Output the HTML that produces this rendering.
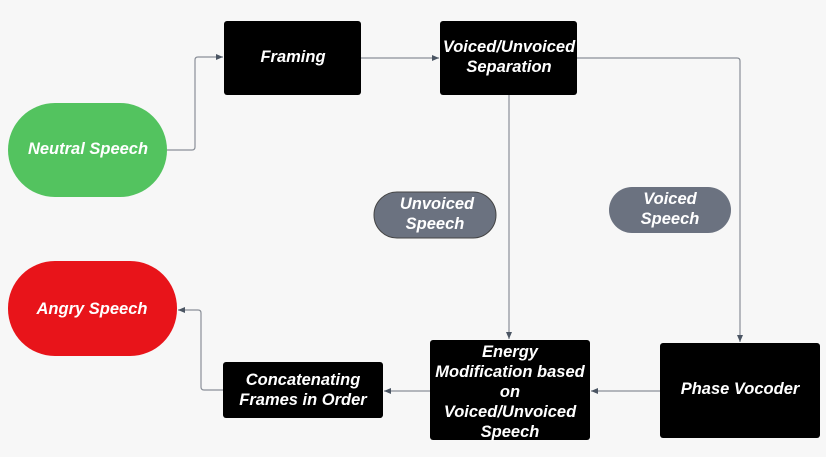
<!DOCTYPE html>
<html><head><meta charset="utf-8"><style>
html,body{margin:0;padding:0;background:#f7f7f7;}
svg{display:block;}
text{font-family:"Liberation Sans",sans-serif;font-weight:bold;font-style:italic;fill:#fff;text-anchor:middle;}
</style></head><body>
<svg width="831" height="457" viewBox="0 0 831 457" xmlns="http://www.w3.org/2000/svg">
<rect x="0" y="0" width="831" height="457" fill="#f7f7f7"/>
<rect x="826" y="0" width="5" height="457" fill="#ffffff"/>
<defs><marker id="a" markerWidth="8" markerHeight="8" refX="7" refY="4" orient="auto" markerUnits="userSpaceOnUse"><path d="M0,1 L7,4 L0,7 Z" fill="#4b5563"/></marker></defs>
<g fill="none" stroke="#8a8f98" stroke-width="1.2">
<path d="M167,150 H192 Q195,150 195,147 V60 Q195,57 198,57 H223" marker-end="url(#a)"/>
<path d="M361,58 H439" marker-end="url(#a)"/>
<path d="M577,58 H737 Q740,58 740,61 V342" marker-end="url(#a)"/>
<path d="M509,95 V339" marker-end="url(#a)"/>
<path d="M660,391 H591" marker-end="url(#a)"/>
<path d="M430,391 H384" marker-end="url(#a)"/>
<path d="M223,390 H204 Q201,390 201,387 V313 Q201,310 198,310 H178" marker-end="url(#a)"/>
</g>
<g font-size="16.5">
<rect x="224" y="21" width="137" height="74" rx="3" fill="#000"/>
<text x="293" y="62">Framing</text>
<rect x="440" y="21" width="137" height="74" rx="3" fill="#000"/>
<text x="509" y="52">Voiced/Unvoiced</text>
<text x="509" y="72">Separation</text>
<rect x="8" y="103" width="159" height="94" rx="47" fill="#53c35f"/>
<text x="88" y="154">Neutral Speech</text>
<rect x="8" y="261" width="169" height="95" rx="47" fill="#e8141a"/>
<text x="92" y="314">Angry Speech</text>
<rect x="374" y="192" width="122" height="46" rx="23" fill="#6b7280" stroke="#444" stroke-width="1"/>
<text x="437" y="209">Unvoiced</text>
<text x="435" y="229">Speech</text>
<rect x="609" y="187" width="122" height="46" rx="23" fill="#6b7280"/>
<text x="670" y="204">Voiced</text>
<text x="670" y="224">Speech</text>
<rect x="430" y="340" width="160" height="100" rx="3" fill="#000"/>
<text x="510" y="357">Energy</text>
<text x="510" y="377">Modification based</text>
<text x="510" y="397">on</text>
<text x="510" y="417">Voiced/Unvoiced</text>
<text x="510" y="437">Speech</text>
<rect x="223" y="362" width="160" height="56" rx="3" fill="#000"/>
<text x="303" y="385">Concatenating</text>
<text x="303" y="405">Frames in Order</text>
<rect x="660" y="343" width="160" height="95" rx="3" fill="#000"/>
<text x="740" y="394">Phase Vocoder</text>
</g>
</svg>
</body></html>
